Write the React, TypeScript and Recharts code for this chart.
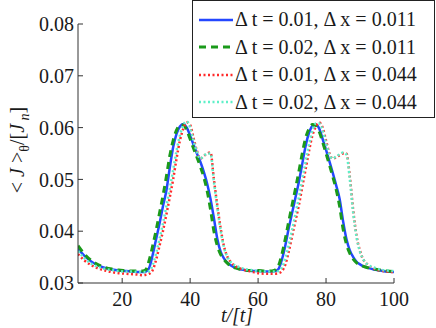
import { LineChart, Line, XAxis, YAxis, Legend } from "recharts";

const SERIF = '"Liberation Serif", "DejaVu Serif", serif';
const AXIS_COLOR = "#333";

// time samples t/[t]
const TIME = [
  7, 9, 11, 13, 15, 17, 19, 21, 23, 25, 26, 27, 28, 29, 30, 31, 32, 33, 34, 35, 36, 37, 38, 39, 40,
  41, 42, 43, 44, 45, 46, 47, 48, 49, 50, 51, 52, 54, 56, 58, 60, 62, 64, 65, 66, 67, 68, 69, 70,
  71, 72, 73, 74, 75, 76, 77, 78, 79, 80, 81, 82, 83, 84, 85, 86, 87, 88, 89, 90, 91, 92, 94, 96, 98, 100,
];

// dt = 0.01, dx = 0.011
const J_A = [
  0.0366, 0.0352, 0.0341, 0.0334, 0.0329, 0.0326, 0.0324, 0.0323, 0.0322, 0.0321, 0.0321, 0.0322, 0.033,
  0.0355, 0.0385, 0.0415, 0.0448, 0.0478, 0.0522, 0.0562, 0.0588, 0.0602, 0.0607, 0.06, 0.0585,
  0.0567, 0.055, 0.0534, 0.0515, 0.0492, 0.0462, 0.0425, 0.0385, 0.036, 0.0347, 0.0339, 0.0334, 0.0328,
  0.0325, 0.0323, 0.0323, 0.0322, 0.0322, 0.0323, 0.0327, 0.0345, 0.0372, 0.0405, 0.0435,
  0.0465, 0.0495, 0.053, 0.0565, 0.059, 0.0603, 0.0606, 0.0598, 0.0578, 0.0557, 0.0535, 0.0512, 0.0488,
  0.0462, 0.042, 0.0385, 0.0363, 0.035, 0.0341, 0.0336, 0.0332, 0.033, 0.0326, 0.0324, 0.0322, 0.0321,
];

// dt = 0.02, dx = 0.011
const J_B = [
  0.0372, 0.0355, 0.0343, 0.0335, 0.033, 0.0327, 0.0325, 0.0324, 0.0323, 0.0323, 0.0323, 0.0326, 0.0345,
  0.0372, 0.0402, 0.0435, 0.0468, 0.0505, 0.0545, 0.0575, 0.0595, 0.0605, 0.0605, 0.0595, 0.0578,
  0.056, 0.0543, 0.0525, 0.0505, 0.0478, 0.0442, 0.04, 0.0372, 0.0355, 0.0345, 0.0338, 0.0333, 0.0328,
  0.0325, 0.0324, 0.0324, 0.0323, 0.0323, 0.0325, 0.0333, 0.0355, 0.0385, 0.0418, 0.045,
  0.0482, 0.0515, 0.055, 0.058, 0.0598, 0.0606, 0.0604, 0.0592, 0.0572, 0.055, 0.0528, 0.0505, 0.048,
  0.0448, 0.0405, 0.0375, 0.0357, 0.0346, 0.0339, 0.0335, 0.0332, 0.033, 0.0327, 0.0325, 0.0323, 0.0322,
];

// dt = 0.01, dx = 0.044
const J_C = [
  0.0356, 0.0343, 0.0334, 0.0328, 0.0324, 0.0321, 0.0319, 0.0318, 0.0317, 0.0316, 0.0315, 0.0316, 0.0318,
  0.0325, 0.0345, 0.0372, 0.04, 0.0432, 0.0465, 0.05, 0.054, 0.0575, 0.0598, 0.061, 0.0605,
  0.058, 0.0555, 0.054, 0.0545, 0.055, 0.0552, 0.05, 0.045, 0.0405, 0.037, 0.035, 0.034, 0.033,
  0.0325, 0.0322, 0.0319, 0.0318, 0.0318, 0.0318, 0.0319, 0.0323, 0.0335, 0.036, 0.039,
  0.042, 0.045, 0.0485, 0.052, 0.0555, 0.0585, 0.0602, 0.061, 0.06, 0.0575, 0.055, 0.054, 0.0543,
  0.0547, 0.055, 0.055, 0.0505, 0.044, 0.039, 0.0362, 0.0345, 0.0337, 0.0328, 0.0324, 0.0322, 0.0321,
];

// dt = 0.02, dx = 0.044
const J_D = [
  0.0362, 0.0347, 0.0337, 0.0331, 0.0327, 0.0325, 0.0323, 0.0322, 0.0322, 0.0321, 0.0321, 0.0321, 0.0323,
  0.0335, 0.0358, 0.0385, 0.0415, 0.0448, 0.0482, 0.0518, 0.0555, 0.0585, 0.0605, 0.0612, 0.06,
  0.0575, 0.0553, 0.054, 0.0545, 0.055, 0.055, 0.0495, 0.0445, 0.04, 0.0368, 0.035, 0.034, 0.0332,
  0.0327, 0.0325, 0.0323, 0.0322, 0.0322, 0.0322, 0.0323, 0.033, 0.0347, 0.0373, 0.0402,
  0.0433, 0.0465, 0.05, 0.0535, 0.0568, 0.0595, 0.0608, 0.0608, 0.0595, 0.057, 0.0548, 0.054, 0.0545,
  0.0548, 0.0552, 0.0548, 0.05, 0.0435, 0.0388, 0.036, 0.0345, 0.0337, 0.033, 0.0326, 0.0324, 0.0323,
];

const X_TICKS = [20, 40, 60, 80, 100];
const Y_TICKS = [0.03, 0.04, 0.05, 0.06, 0.07, 0.08];
const LABELS = [
  "\u0394 t = 0.01, \u0394 x = 0.011",
  "\u0394 t = 0.02, \u0394 x = 0.011",
  "\u0394 t = 0.01, \u0394 x = 0.044",
  "\u0394 t = 0.02, \u0394 x = 0.044",
];

const data = TIME.map((t, i) => ({ t, a: J_A[i], b: J_B[i], c: J_C[i], d: J_D[i] }));

const LINE_STYLES = [
  { key: "a", color: "#2447ff", width: 2.5, dash: undefined },
  { key: "b", color: "#1a9a1a", width: 3, dash: "7 5" },
  { key: "c", color: "#ff2a2a", width: 2.5, dash: "2 2.5" },
  { key: "d", color: "#5ef0c8", width: 2.5, dash: "2 2.5" },
];

const TICK = { fontSize: 20, fontFamily: SERIF, fill: "#1a1a1a" };

function YTitle() {
  return (
    <text
      transform="translate(24,150) rotate(-90)"
      textAnchor="middle"
      fontFamily={SERIF}
      fontSize={20}
      fill="#1a1a1a"
    >
      <tspan>{"< "}</tspan>
      <tspan fontStyle="italic">J</tspan>
      <tspan>{" >"}</tspan>
      <tspan fontSize={14} dy={5}>θ</tspan>
      <tspan dy={-5}>/[</tspan>
      <tspan fontStyle="italic">J</tspan>
      <tspan fontSize={14} fontStyle="italic" dy={5}>{" n"}</tspan>
      <tspan dy={-5}>]</tspan>
    </text>
  );
}

function XTitle() {
  return (
    <text x={237} y={322} textAnchor="middle" fontFamily={SERIF} fontSize={20} fontStyle="italic" fill="#1a1a1a">
      t/[t]
    </text>
  );
}

function PanelTag() {
  return (
    <text x={100} y={44} fontFamily={SERIF} fontSize={20} fill="#1a1a1a">
      (b)
    </text>
  );
}

function LegendBox() {
  return (
    <div
      style={{
        width: 243,
        height: 118,
        boxSizing: "border-box",
        border: "1px solid #222",
        background: "#fff",
        paddingTop: 5,
      }}
    >
      {LINE_STYLES.map((s, i) => (
        <div key={s.key} style={{ display: "flex", alignItems: "center", height: 27.5 }}>
          <svg width={40} height={10} style={{ marginLeft: 2 }}>
            <line x1={4} y1={5} x2={38} y2={5} stroke={s.color} strokeWidth={s.width} strokeDasharray={s.dash} />
          </svg>
          <span style={{ fontFamily: SERIF, fontSize: 20, color: "#1a1a1a", whiteSpace: "nowrap" }}>
            {LABELS[i]}
          </span>
        </div>
      ))}
    </div>
  );
}

export default function App() {
  return (
    <div style={{ width: 436, height: 328, background: "#fff" }}>
      <style>{`body{margin:0}`}</style>
      <LineChart width={436} height={328} data={data} margin={{ top: 24, right: 42, bottom: 0, left: 0 }}>
        <XAxis
          xAxisId="bottom"
          dataKey="t"
          type="number"
          domain={[7, 100]}
          ticks={X_TICKS}
          allowDataOverflow
          height={45}
          tick={TICK}
          tickSize={-5}
          tickMargin={14}
          stroke={AXIS_COLOR}
          label={<XTitle />}
        />
        <XAxis
          xAxisId="top"
          orientation="top"
          dataKey="t"
          type="number"
          domain={[7, 100]}
          ticks={X_TICKS}
          allowDataOverflow
          height={0}
          tick={false}
          tickSize={-5}
          stroke={AXIS_COLOR}
          label={<PanelTag />}
        />
        <YAxis
          yAxisId="left"
          type="number"
          domain={[0.03, 0.08]}
          ticks={Y_TICKS}
          allowDataOverflow
          width={78}
          tick={TICK}
          tickFormatter={(v: number) => v.toFixed(2)}
          tickSize={-5}
          tickMargin={9}
          stroke={AXIS_COLOR}
          label={<YTitle />}
        />
        <YAxis
          yAxisId="right"
          orientation="right"
          type="number"
          domain={[0.03, 0.08]}
          ticks={Y_TICKS}
          allowDataOverflow
          width={0}
          tick={false}
          tickSize={-5}
          stroke={AXIS_COLOR}
        />
        {LINE_STYLES.map((s) => (
          <Line
            key={s.key}
            xAxisId="bottom"
            yAxisId="left"
            type="monotone"
            dataKey={s.key}
            stroke={s.color}
            strokeWidth={s.width}
            strokeDasharray={s.dash}
            dot={false}
            isAnimationActive={false}
          />
        ))}
        <Legend
          layout="vertical"
          align="center"
          verticalAlign="middle"
          wrapperStyle={{ left: 192, top: 0, width: 243 }}
          content={<LegendBox />}
        />
      </LineChart>
    </div>
  );
}
